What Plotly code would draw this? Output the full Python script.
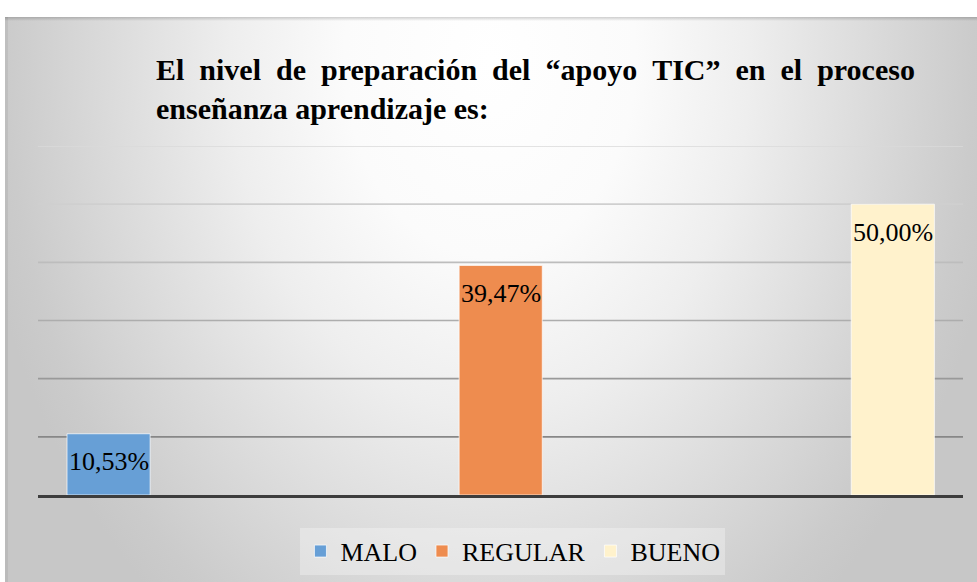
import base64
import plotly.graph_objects as go

# ---- data ----
categories = ["MALO", "REGULAR", "BUENO"]
values = [10.53, 39.47, 50.00]
bar_colors = ["#679fd6", "#ee8c4f", "#fff2cc"]
title_line1 = "El nivel de preparación del “apoyo TIC” en el proceso"
title_line2 = "enseñanza aprendizaje es:"
grid_values = [10, 20, 30, 40, 50, 60]
grid_colors = ["#878787", "#999999", "#adadad", "#bdbdbd", "#cfcfcf", "#dadada"]

SERIF = "'Liberation Serif', 'Times New Roman', Times, serif"
W, H = 977, 582
L, R, T, B = 38, 14, 146, 87

fig = go.Figure()
for cat, val, col in zip(categories, values, bar_colors):
    fig.add_trace(go.Bar(
        x=[cat], y=[val], name=cat, width=0.212,
        marker=dict(color=col, line=dict(color="rgba(255,255,255,0.7)", width=1)),
        hoverinfo="skip",
    ))
    fig.add_annotation(
        x=cat, y=val, yref="y", text=f"{val:.2f}".replace(".", ",") + "%",
        showarrow=False, yanchor="middle", yshift=-28,
        font=dict(family=SERIF, size=26, color="#000000"),
    )

# grid lines (drawn below bars)
for gv, gc in zip(grid_values, grid_colors):
    fig.add_shape(type="line", xref="paper", x0=0, x1=1, yref="y", y0=gv, y1=gv,
                  line=dict(color=gc, width=1.6), layer="below")

# background gradient via svg image
pw, ph = W - 5, H - 17
svg = f'''<svg xmlns="http://www.w3.org/2000/svg" width="{pw}" height="{ph}" viewBox="0 0 {pw} {ph}" preserveAspectRatio="none">
<defs>
<radialGradient id="g" gradientUnits="userSpaceOnUse" cx="485" cy="43" r="520" gradientTransform="translate(485 43) scale(1 1.35) translate(-485 -43)">
<stop offset="0" stop-color="#ffffff"/>
<stop offset="0.28" stop-color="#fbfbfb"/>
<stop offset="0.5" stop-color="#eeeeee"/>
<stop offset="0.72" stop-color="#dcdcdc"/>
<stop offset="0.93" stop-color="#cbcbcb"/>
<stop offset="1" stop-color="#c7c7c7"/>
</radialGradient>
<linearGradient id="s" x1="0" y1="0" x2="0" y2="1">
<stop offset="0" stop-color="#000" stop-opacity="0.18"/>
<stop offset="1" stop-color="#000" stop-opacity="0"/>
</linearGradient>
</defs>
<rect x="0" y="0" width="{pw}" height="{ph}" fill="url(#g)"/>
<rect x="0" y="0" width="{pw}" height="4" fill="url(#s)"/>
<rect x="0" y="0" width="3" height="{ph}" fill="#000" fill-opacity="0.06"/>
</svg>'''
src = "data:image/svg+xml;base64," + base64.b64encode(svg.encode("utf-8")).decode("ascii")
plot_w = W - L - R
plot_h = H - T - B
fig.add_layout_image(
    source=src, xref="paper", yref="paper",
    x=(5 - L) / plot_w, y=(H - B - 17) / plot_h,
    sizex=pw / plot_w, sizey=ph / plot_h,
    xanchor="left", yanchor="top", sizing="stretch", layer="below",
)

nb = " \u00a0"
title_text = nb.join(title_line1.split(" ")) + "<br>" + title_line2

fig.update_layout(
    width=W, height=H,
    margin=dict(l=L, r=R, t=T, b=B),
    paper_bgcolor="#ffffff", plot_bgcolor="rgba(0,0,0,0)",
    barmode="relative",
    title=dict(
        text=title_text, xref="container", yref="container",
        x=156 / W, xanchor="left", y=1 - 80 / H, yanchor="top",
        font=dict(family=SERIF, size=30, color="#000000", weight="bold"),
    ),
    xaxis=dict(type="category", categoryarray=categories, range=[-0.18, 2.179],
               showticklabels=False, showgrid=False, zeroline=False, ticks="",
               showline=True, linecolor="#3d3d3d", linewidth=3, fixedrange=True),
    yaxis=dict(range=[0, 60], showgrid=False, zeroline=False, showticklabels=False,
               ticks="", showline=False, fixedrange=True),
    legend=dict(
        orientation="h", xref="container", yref="container",
        x=0.525, xanchor="center", y=0.053, yanchor="middle",
        bgcolor="rgba(255,255,255,0.3)", traceorder="normal",
        font=dict(family=SERIF, size=26, color="#000000"),
    ),
    showlegend=True,
)

fig.write_html("out.html", config={"displayModeBar": False},
               post_script="document.body.style.margin='0';")
